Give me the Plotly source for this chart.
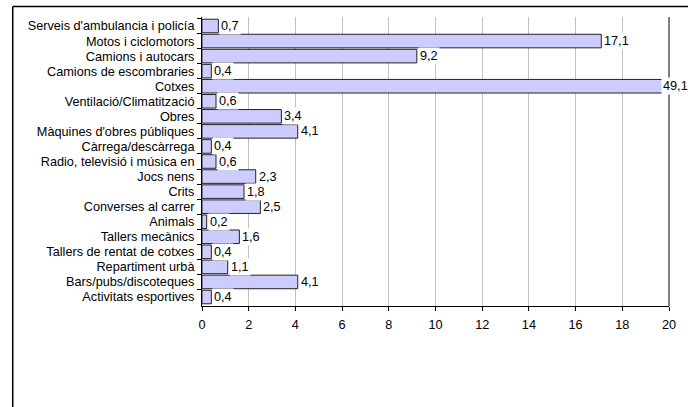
import plotly.graph_objects as go

categories = [
    "Serveis d'ambulancia i policía",
    "Motos i ciclomotors",
    "Camions i autocars",
    "Camions de escombraries",
    "Cotxes",
    "Ventilació/Climatització",
    "Obres",
    "Màquines d'obres públiques",
    "Càrrega/descàrrega",
    "Radio, televisió i música en",
    "Jocs nens",
    "Crits",
    "Converses al carrer",
    "Animals",
    "Tallers mecànics",
    "Tallers de rentat de cotxes",
    "Repartiment urbà",
    "Bars/pubs/discoteques",
    "Activitats esportives",
]
values = [0.7, 17.1, 9.2, 0.4, 49.1, 0.6, 3.4, 4.1, 0.4, 0.6, 2.3, 1.8, 2.5, 0.2, 1.6, 0.4, 1.1, 4.1, 0.4]
x_max = 20
tick_vals = list(range(0, 21, 2))

FONT = "Liberation Sans, Arial, sans-serif"
FS = 12.7

fig = go.Figure()
fig.add_trace(go.Bar(
    y=categories, x=values, orientation="h",
    marker=dict(color="#CCCCFF", line=dict(color="#222222", width=1)),
    hoverinfo="skip",
))

for c, v in zip(categories, values):
    clipped = v > x_max
    fig.add_annotation(
        x=min(v, x_max), y=c, xref="x", yref="y",
        text=f"{v:.1f}".replace(".", ","),
        showarrow=False,
        xanchor="left",
        xshift=-8 if clipped else 1,
        bgcolor="white", borderpad=1,
        font=dict(family=FONT, size=FS, color="black"),
    )

L, R, T, B = 202, 672, 17, 306
W, H = 688, 407
pw, ph = R - L, B - T

# outer chart border (left and top edges are visible in the frame)
bx0 = (11.5 - L) / pw
by1 = 1 + (T - 6.5) / ph
fig.add_shape(type="line", xref="paper", yref="paper",
              x0=bx0, x1=(W + 5 - L) / pw, y0=by1, y1=by1,
              line=dict(color="black", width=1.5))
fig.add_shape(type="line", xref="paper", yref="paper",
              x0=bx0, x1=bx0, y0=-(H + 5 - B) / ph, y1=by1,
              line=dict(color="black", width=1.5))
# right border of plot area
fig.add_shape(type="line", xref="paper", yref="paper", x0=1, x1=1, y0=0, y1=1,
              line=dict(color="black", width=1))

fig.update_layout(
    width=W, height=H,
    margin=dict(l=L, r=W - R, t=T, b=H - B),
    paper_bgcolor="white", plot_bgcolor="white",
    separators=",.",
    bargap=0.1,
    showlegend=False,
    font=dict(family=FONT, size=FS, color="black"),
    xaxis=dict(
        range=[0, x_max], tickvals=tick_vals,
        showgrid=True, gridcolor="#C0C0C0", gridwidth=1,
        showline=True, linecolor="black", linewidth=1, mirror=False,
        ticks="outside", ticklen=4, tickcolor="black",
        tickfont=dict(family=FONT, size=FS),
        ticklabelstandoff=3,
        zeroline=False, fixedrange=True,
    ),
    yaxis=dict(
        autorange="reversed",
        showline=True, linecolor="black", linewidth=1,
        ticks="outside", ticklen=4, tickcolor="black", tickson="boundaries",
        tickfont=dict(family=FONT, size=FS),
        ticklabelstandoff=4,
        showgrid=False, fixedrange=True,
    ),
)

fig.write_html(
    "out.html",
    config={"displayModeBar": False},
    post_script="document.body.style.margin='0';document.body.style.overflow='hidden';",
)
